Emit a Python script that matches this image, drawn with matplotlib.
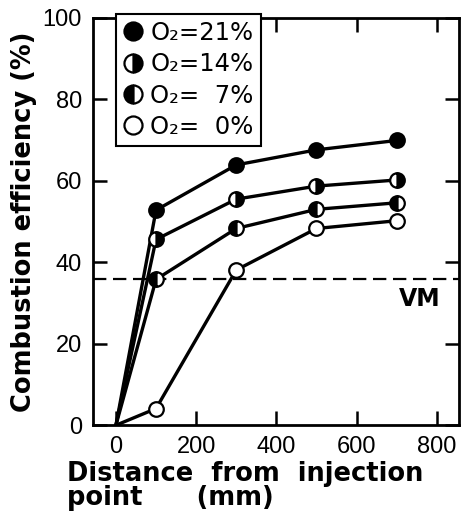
import matplotlib.pyplot as plt
from matplotlib.lines import Line2D

plt.rcParams['font.family'] = ['Liberation Sans', 'DejaVu Sans']

distance = [0, 100, 300, 500, 700]
eff_21 = [0, 52.8, 63.9, 67.6, 69.9]
eff_14 = [0, 45.6, 55.5, 58.7, 60.2]
eff_7 = [0, 35.8, 48.3, 53.0, 54.6]
eff_0 = [0, 4.1, 38.1, 48.3, 50.2]
vm_level = 36
labels = ['O₂=21%', 'O₂=14%', 'O₂=  7%', 'O₂=  0%']

fig = plt.figure(figsize=(4.63, 5.25), dpi=100)
ax = fig.add_axes([0.201, 0.19, 0.79, 0.776])

styles = [dict(fillstyle='full', markerfacecolor='black'),
          dict(fillstyle='right', markerfacecolor='black', markerfacecoloralt='white'),
          dict(fillstyle='left', markerfacecolor='black', markerfacecoloralt='white'),
          dict(fillstyle='full', markerfacecolor='white')]

# draw lower curves first so the upper ones sit on top
for y, st in zip([eff_0, eff_7, eff_14, eff_21], styles[::-1]):
    ax.plot(distance, y, color='black', lw=2.4, zorder=2)
    ax.plot(distance[1:], y[1:], ls='none', marker='o', ms=10.5,
            markeredgecolor='black', markeredgewidth=1.6, zorder=3, **st)

ax.axhline(vm_level, color='black', lw=1.6, ls=(0, (6, 3)), zorder=1)
ax.text(758, vm_level - 2, 'VM', fontsize=17, fontweight='bold',
        family='DejaVu Sans', ha='center', va='top')

ax.set_xlim(-57, 855)
ax.set_ylim(0, 100)
ax.set_xticks([0, 200, 400, 600, 800])
ax.set_yticks([0, 20, 40, 60, 80, 100])
ax.tick_params(direction='in', length=10, width=1.8, top=True, right=True,
               labelsize=17, pad=8)
for s in ax.spines.values():
    s.set_linewidth(2)

ax.set_xlabel('Distance  from  injection\npoint      (mm)', fontsize=18.5,
              fontweight='bold', family='DejaVu Sans', ha='left', x=-0.07,
              linespacing=0.9, labelpad=2)
ax.set_ylabel('Combustion efficiency (%)', fontsize=18.5, fontweight='bold',
              family='DejaVu Sans', labelpad=4)

handles = [Line2D([], [], ls='none', marker='o', ms=13,
                  markeredgecolor='black', markeredgewidth=1.6, **st)
           for st in styles]
leg = ax.legend(handles, labels, loc='upper left', bbox_to_anchor=(0.03, 1.04),
                prop=dict(family='DejaVu Sans', size=17.5),
                handlelength=0.8, handletextpad=0.3,
                labelspacing=0.3, borderpad=0.3, fancybox=False,
                framealpha=1, edgecolor='black')
leg.get_frame().set_linewidth(1.5)

fig.savefig('out.png', dpi=100)
